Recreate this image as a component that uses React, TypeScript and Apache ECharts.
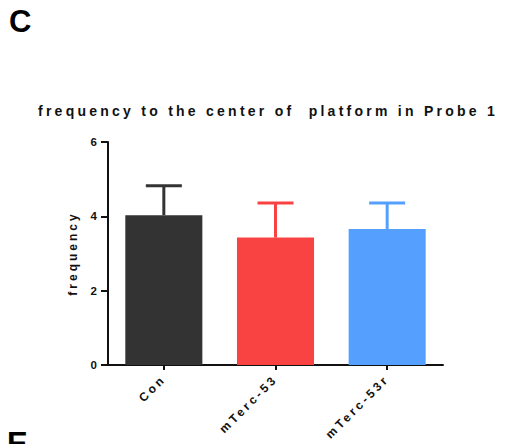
import React, { useEffect, useRef } from "react";
import * as echarts from "echarts";

// Probe 1 trial: crossings of the former platform centre, mean ± SEM per group
const groups = ["Con", "mTerc-53", "mTerc-53r"];
const meanFrequency = [4.03, 3.43, 3.66];
const semFrequency = [0.79, 0.93, 0.7];
const groupColors = ["#333333", "#F94343", "#55A0FE"];
const yTicks = [0, 2, 4, 6];

const chartTitle = "frequency to the center of  platform in Probe 1";
const yAxisTitle = "frequency";

const FONT = "'Liberation Sans', Arial, Helvetica, sans-serif";

export default function App() {
  const ref = useRef<HTMLDivElement>(null);

  useEffect(() => {
    if (!ref.current) return;
    const chart = echarts.init(ref.current, undefined, { renderer: "svg" });

    const errorData = groups.map((_, i) => [i, meanFrequency[i], meanFrequency[i] + semFrequency[i]]);

    chart.setOption({
      animation: false,
      backgroundColor: "#ffffff",
      title: {
        text: chartTitle,
        left: 268,
        top: 104,
        textAlign: "center",
        padding: 0,
        textStyle: { fontFamily: FONT, fontSize: 14, fontWeight: "bold", color: "#111111" },
      },
      graphic: [
        {
          type: "text",
          left: 9,
          top: 6,
          style: { text: "C", fontFamily: FONT, fontSize: 31, fontWeight: "bold", fill: "#000000" },
        },
        {
          type: "text",
          left: 7,
          top: 428,
          style: { text: "E", fontFamily: FONT, fontSize: 31, fontWeight: "bold", fill: "#000000" },
        },
      ],
      grid: { left: 108, right: 67, top: 142, bottom: 79, containLabel: false },
      xAxis: {
        type: "category",
        data: groups,
        axisLine: { show: true, lineStyle: { color: "#111111", width: 2 } },
        axisTick: { show: true, alignWithLabel: true, length: 5, lineStyle: { color: "#111111", width: 2 } },
        axisLabel: {
          rotate: 45,
          margin: 12,
          interval: 0,
          fontFamily: FONT,
          fontSize: 12,
          fontWeight: "bold",
          color: "#111111",
        },
        splitLine: { show: false },
      },
      yAxis: {
        type: "value",
        min: 0,
        max: 6,
        interval: 2,
        name: yAxisTitle,
        nameLocation: "middle",
        nameRotate: 90,
        nameGap: 29,
        nameTextStyle: { fontFamily: FONT, fontSize: 12, fontWeight: "bold", color: "#111111" },
        axisLine: { show: true, lineStyle: { color: "#111111", width: 2 } },
        axisTick: { show: true, length: 7, lineStyle: { color: "#111111", width: 2 } },
        axisLabel: {
          margin: 11,
          fontFamily: FONT,
          fontSize: 11.5,
          fontWeight: "bold",
          color: "#111111",
          formatter: (v: number) => (yTicks.includes(v) ? String(v) : ""),
        },
        splitLine: { show: false },
      },
      series: [
        {
          type: "bar",
          barWidth: "69%",
          data: meanFrequency.map((v, i) => ({ value: v, itemStyle: { color: groupColors[i] } })),
          z: 2,
        },
        {
          type: "custom",
          z: 3,
          data: errorData,
          encode: { x: 0, y: [1, 2] },
          renderItem: (params: any, api: any) => {
            const idx = api.value(0);
            const base = api.coord([idx, api.value(1)]);
            const top = api.coord([idx, api.value(2)]);
            const capHalf = 18;
            const color = groupColors[params.dataIndex];
            const style = { stroke: color, lineWidth: 3, fill: "none" };
            return {
              type: "group",
              children: [
                { type: "line", shape: { x1: base[0], y1: base[1], x2: top[0], y2: top[1] }, style },
                {
                  type: "line",
                  shape: { x1: top[0] - capHalf, y1: top[1], x2: top[0] + capHalf, y2: top[1] },
                  style,
                },
              ],
            };
          },
        },
      ],
    });

    return () => chart.dispose();
  }, []);

  return (
    <>
      <style>{`
        .probe-chart svg text { letter-spacing: 3px; white-space: pre; }
        .probe-chart svg text[style*="14px"] { letter-spacing: 3.25px; }
        .probe-chart svg text[style*="11.5px"] { letter-spacing: 0; }
        .probe-chart svg text[style*="31px"] { letter-spacing: 0; }
      `}</style>
      <div
        ref={ref}
        className="probe-chart"
        style={{ position: "fixed", left: 0, top: 0, width: 510, height: 444 }}
      />
    </>
  );
}
